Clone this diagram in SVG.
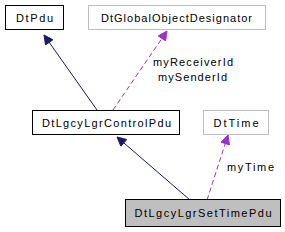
<svg xmlns="http://www.w3.org/2000/svg" width="285" height="232" viewBox="0 0 285 232">
<style>
text{font-family:"Liberation Sans",Arial,sans-serif;font-size:11px;fill:#000}
.n rect{fill:#fff;stroke:#000;stroke-width:1}
.g rect{fill:#fff;stroke:#bfbfbf;stroke-width:1}
.cur rect{fill:#bfbfbf;stroke:#000;stroke-width:1}
.inh{stroke:#191970;stroke-width:1;fill:none}
.use{stroke:#9a32cd;stroke-width:1;fill:none;stroke-dasharray:5,3}
</style>
<defs>
<marker id="ai" viewBox="0 0 10 10" refX="10" refY="5" markerWidth="11" markerHeight="9" markerUnits="userSpaceOnUse" orient="auto"><path d="M0,0L10,5L0,10z" fill="#191970" stroke="#191970"/></marker>
<marker id="au" viewBox="0 0 10 10" refX="10" refY="5" markerWidth="11" markerHeight="9" markerUnits="userSpaceOnUse" orient="auto"><path d="M0,0L10,5L0,10z" fill="#9a32cd" stroke="#9a32cd"/></marker>
</defs>
<g id="connectors">
<path class="inh" d="M97,110L44,35" marker-end="url(#ai)"/>
<path class="use" d="M113,110L167,31" marker-end="url(#au)"/>
<path class="inh" d="M190,200L117,137" marker-end="url(#ai)"/>
<path class="use" d="M207,200L228,135" marker-end="url(#au)"/>
<text x="153" y="66" textLength="80" lengthAdjust="spacing">myReceiverId</text>
<text x="158" y="81" textLength="69" lengthAdjust="spacing">mySenderId</text>
<text x="227" y="171" textLength="47" lengthAdjust="spacing">myTime</text>
</g>
<g id="DtPdu" class="n"><rect x="5.5" y="5.5" width="58" height="24"/><text x="16" y="21.5" textLength="37" lengthAdjust="spacing">DtPdu</text></g>
<g id="DtGlobalObjectDesignator" class="g"><rect x="88.5" y="5.5" width="177" height="24"/><text x="101" y="21.5" textLength="151" lengthAdjust="spacing">DtGlobalObjectDesignator</text></g>
<g id="DtLgcyLgrControlPdu" class="n"><rect x="32.5" y="110.5" width="147" height="24"/><text x="42" y="126.5" textLength="129" lengthAdjust="spacing">DtLgcyLgrControlPdu</text></g>
<g id="DtTime" class="g"><rect x="203.5" y="110.5" width="65" height="24"/><text x="213.5" y="126.5" textLength="45" lengthAdjust="spacing">DtTime</text></g>
<g id="DtLgcyLgrSetTimePdu" class="cur"><rect x="125.5" y="199.5" width="155" height="27"/><text x="134.5" y="216.5" textLength="137" lengthAdjust="spacing">DtLgcyLgrSetTimePdu</text></g>
</svg>
